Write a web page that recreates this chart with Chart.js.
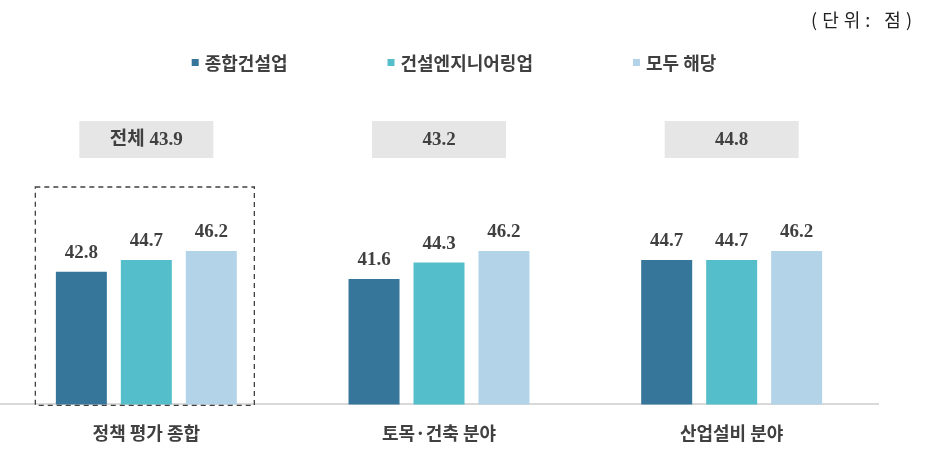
<!DOCTYPE html>
<html>
<head>
<meta charset="utf-8">
<script src="https://cdn.jsdelivr.net/npm/chart.js@4"></script>
<style>
  html, body { margin: 0; padding: 0; background: #fff; }
  #wrap { width: 932px; height: 467px; }
</style>
</head>
<body>
<div id="wrap"><canvas id="grafico"></canvas></div>
<script>
const categorias = ['정책 평가 종합', '토목·건축 분야', '산업설비 분야'];
const series = ['종합건설업', '건설엔지니어링업', '모두 해당'];
const general = [42.8, 41.6, 44.7];
const engenharia = [44.7, 44.3, 44.7];
const ambos = [46.2, 46.2, 46.2];
const totais = ['전체 43.9', '43.2', '44.8'];
const unidade = '(단위: 점)';

const cores = ['#35769A', '#55BECB', '#B3D4E8'];
const texto = '#404040';
const fonteNum = '"Liberation Serif", "Noto Sans CJK KR", serif';
const fonteKr = '"Noto Sans CJK KR", sans-serif';

// legend, labels, grey total boxes, dashed box, unit text
const extras = {
    id: 'extras',
    afterDatasetsDraw(chart) {
        const c = chart.ctx;
        const x = chart.scales.x;
        c.save();

        // value labels over bars
        c.font = 'bold 19px ' + fonteNum;
        c.fillStyle = texto;
        c.textAlign = 'center';
        c.textBaseline = 'alphabetic';
        chart.data.datasets.forEach((ds, i) => {
            chart.getDatasetMeta(i).data.forEach((bar, j) => {
                c.fillText(ds.data[j].toFixed(1), bar.x, bar.y - 14);
            });
        });

        // grey boxes with totals
        totais.forEach((t, j) => {
            const cx = x.getPixelForValue(j);
            c.fillStyle = '#E6E6E6';
            c.fillRect(cx - 67, 121, 134, 37);
            c.fillStyle = texto;
            c.textBaseline = 'middle';
            c.fillText(t, cx, 140);
        });

        // dashed box around first group
        const g = x.getPixelForValue(0);
        c.strokeStyle = '#404040';
        c.lineWidth = 1.3;
        c.setLineDash([5, 4]);
        c.strokeRect(g - 111, 187, 219, chart.chartArea.bottom - 187 + 1);
        c.setLineDash([]);

        // legend
        c.font = 'bold 18px ' + fonteKr;
        c.textAlign = 'left';
        c.textBaseline = 'middle';
        const gap = 100;
        const larguras = chart.data.datasets.map(ds => 13 + c.measureText(ds.label).width);
        const total = larguras.reduce((a, b) => a + b, 0) + gap * (larguras.length - 1);
        let lx = 454 - total / 2;
        chart.data.datasets.forEach((ds, i) => {
            c.fillStyle = ds.backgroundColor;
            c.fillRect(lx, 59, 7, 7);
            c.fillStyle = texto;
            c.fillText(ds.label, lx + 13, 63);
            lx += larguras[i] + gap;
        });

        // unit
        c.font = '18px ' + fonteKr;
        c.fillStyle = '#222';
        c.textAlign = 'right';
        c.letterSpacing = '5px';
        c.fillText(unidade, 917, 20);
        c.restore();
    }
};

new Chart(document.getElementById('grafico'), {
    type: 'bar',
    data: {
        labels: categorias,
        datasets: [
            { label: series[0], data: general, backgroundColor: cores[0] },
            { label: series[1], data: engenharia, backgroundColor: cores[1] },
            { label: series[2], data: ambos, backgroundColor: cores[2] }
        ]
    },
    options: {
        responsive: true,
        maintainAspectRatio: false,
        animation: false,
        datasets: {
            bar: { categoryPercentage: 0.666, barPercentage: 0.785 }
        },
        layout: { padding: { top: 100, right: 54, bottom: 5, left: 0 } },
        plugins: {
            legend: { display: false },
            tooltip: { enabled: false }
        },
        scales: {
            x: {
                grid: { display: false, drawTicks: false },
                border: { color: '#D9D9D9', width: 2 },
                ticks: {
                    padding: 18,
                    color: texto,
                    font: { family: fonteKr, size: 18, weight: 'bold' }
                }
            },
            y: {
                display: false,
                min: 21,
                max: 71
            }
        }
    },
    plugins: [extras]
});
</script>
</body>
</html>
